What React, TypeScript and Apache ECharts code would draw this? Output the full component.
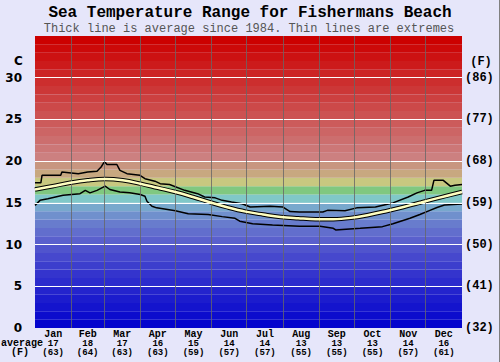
import React, { useEffect, useRef } from 'react';
import * as echarts from 'echarts';

const MONTHS = ['Jan', 'Feb', 'Mar', 'Apr', 'May', 'Jun', 'Jul', 'Aug', 'Sep', 'Oct', 'Nov', 'Dec'];
const MONTH_DAYS = [31, 28, 31, 30, 31, 30, 31, 31, 30, 31, 30, 31];
const AVG_C = ['17', '18', '17', '16', '15', '14', '14', '13', '13', '13', '14', '16'];
const AVG_F = ['(63)', '(64)', '(63)', '(63)', '(59)', '(57)', '(57)', '(55)', '(55)', '(55)', '(57)', '(61)'];
const C_TICKS = [0, 5, 10, 15, 20, 25, 30];
const F_TICKS = ['(32)', '(41)', '(50)', '(59)', '(68)', '(77)', '(86)'];

// [day of year, °C]
const AVERAGE: [number, number][] = [
  [0, 16.6], [15, 17.0], [30, 17.4], [45, 17.7], [60, 17.85], [75, 17.7], [90, 17.3],
  [105, 16.8], [120, 16.3], [135, 15.7], [150, 15.05], [165, 14.45], [180, 13.95],
  [195, 13.6], [210, 13.3], [225, 13.15], [240, 13.05], [255, 13.05], [270, 13.2],
  [285, 13.55], [300, 14.0], [315, 14.5], [330, 15.05], [345, 15.6], [365, 16.3],
];

const UPPER: [number, number][] = [
  [0, 17.4], [5, 17.4], [6, 18.3], [22, 18.3], [23, 18.7], [37, 18.5], [45, 18.7],
  [53, 18.8], [56.5, 19.3], [59.4, 19.95], [61.5, 19.6], [70, 19.6], [72.6, 18.9],
  [78.6, 18.5], [89.7, 18.3], [94, 17.9], [102.5, 17.6], [107, 17.3], [115, 17.2],
  [128, 16.5], [139, 16.1], [145, 15.7], [154, 15.6], [160, 15.3], [168, 15.1],
  [177, 14.9], [184, 14.5], [201, 14.6], [212, 14.5], [218, 13.95], [226, 13.9],
  [246, 13.9], [250, 14.1], [265, 14.05], [275, 14.4], [291, 14.5], [303, 14.9],
  [306, 15.0], [319, 15.7], [326.5, 16.2], [333, 16.5], [339, 16.5], [341, 17.7],
  [349, 17.7], [355, 17.0], [359, 17.1], [365, 17.2],
];

const LOWER: [number, number][] = [
  [0, 14.7], [4.3, 15.3], [11, 15.5], [24, 15.9], [38.5, 16.1], [43, 16.5], [47, 16.2],
  [53, 16.5], [60, 17.0], [64, 16.6], [72.6, 16.3], [81, 16.2], [90, 16.0], [94, 15.8],
  [95.7, 15.2], [100, 14.6], [104, 14.4], [120, 14.05], [131, 13.7], [148, 13.6],
  [160, 13.35], [171, 13.15], [175, 12.8], [186, 12.5], [203, 12.35], [226, 12.2],
  [243.6, 12.2], [255, 11.95], [257, 11.75], [278, 11.95], [297, 12.15], [306, 12.5],
  [320.5, 13.15], [329, 13.6], [337.6, 14.1], [343.6, 14.45], [350, 14.75], [365, 14.85],
];

// background band colours (style), one per 1°C from 0 to 35
const BAND_COLORS = [
  'rgb(5,5,205)', 'rgb(12,12,205)', 'rgb(20,20,205)', 'rgb(28,28,205)', 'rgb(36,36,205)',
  'rgb(44,44,205)', 'rgb(52,52,205)', 'rgb(60,62,205)', 'rgb(70,72,205)', 'rgb(80,84,205)',
  'rgb(90,96,205)', 'rgb(98,110,205)', 'rgb(104,124,205)', 'rgb(112,144,205)', 'rgb(120,168,205)',
  'rgb(128,200,200)', 'rgb(128,200,128)', 'rgb(200,200,128)', 'rgb(200,168,128)', 'rgb(200,150,128)',
  'rgb(204,128,128)', 'rgb(204,119,119)', 'rgb(204,110,110)', 'rgb(204,101,101)', 'rgb(204,91,91)',
  'rgb(204,82,82)', 'rgb(204,73,73)', 'rgb(204,64,64)', 'rgb(204,55,55)', 'rgb(204,46,46)',
  'rgb(204,37,37)', 'rgb(204,27,27)', 'rgb(204,18,18)', 'rgb(204,9,9)', 'rgb(204,0,0)',
];

const MONO = '"Liberation Mono", "Courier New", monospace';
const SANS = '"DejaVu Sans", Verdana, sans-serif';

export default function App() {
  const ref = useRef<HTMLDivElement>(null);

  useEffect(() => {
    if (!ref.current) return;
    const chart = echarts.init(ref.current, undefined, { renderer: 'svg' });

    const starts: number[] = [];
    let acc = 0;
    MONTH_DAYS.forEach((d) => { starts.push(acc); acc += d; });
    const centers = MONTH_DAYS.map((d, i) => starts[i] + d / 2);
    const boundaries = starts.slice(1);

    const bandData = BAND_COLORS.map((c, i) => [
      { yAxis: i, itemStyle: { color: c } },
      { yAxis: i + 1 },
    ]);

    const option: any = {
      animation: false,
      backgroundColor: '#E6E6FA',
      grid: { left: 35, right: 38, top: 36, bottom: 34 },
      xAxis: {
        type: 'value',
        min: 0,
        max: 365,
        splitLine: { show: false },
        axisLine: { show: false },
        axisTick: { show: false },
        axisLabel: {
          customValues: centers,
          margin: 1,
          showMinLabel: true,
          showMaxLabel: true,
          formatter: (v: number) => {
            let idx = -1;
            centers.forEach((c, i) => { if (Math.abs(c - v) < 0.6) idx = i; });
            if (idx < 0) return '';
            return `{m|${MONTHS[idx]}}\n{v|${AVG_C[idx]}}\n{v|${AVG_F[idx]}}`;
          },
          rich: {
            m: { fontFamily: MONO, fontWeight: 'bold', fontSize: 10, lineHeight: 10, color: '#000' },
            v: { fontFamily: MONO, fontWeight: 'bold', fontSize: 9, lineHeight: 9.5, color: '#000' },
          },
        },
      },
      yAxis: [
        {
          type: 'value',
          min: 0,
          max: 35,
          interval: 5,
          splitLine: { show: false },
          axisLine: { show: false },
          axisTick: { show: false },
          axisLabel: {
            margin: 13,
            fontFamily: SANS,
            fontWeight: 'bold',
            fontSize: 12,
            color: '#000',
            formatter: (v: number) => (C_TICKS.includes(v) ? String(v) : ''),
          },
        },
        {
          type: 'value',
          min: 0,
          max: 35,
          interval: 5,
          position: 'right',
          splitLine: { show: false },
          axisLine: { show: false },
          axisTick: { show: false },
          axisLabel: {
            margin: 3,
            fontFamily: MONO,
            fontWeight: 'bold',
            fontSize: 12,
            color: '#000',
            formatter: (v: number) => {
              const i = Math.round(v / 5);
              return F_TICKS[i] !== undefined ? F_TICKS[i] : '';
            },
          },
        },
      ],
      graphic: [
        {
          type: 'text', x: 250, y: 13, silent: true,
          style: {
            text: 'Sea Temperature Range for Fishermans Beach', textAlign: 'center', textVerticalAlign: 'middle',
            font: `bold 16px ${MONO}`, fill: '#000',
          },
        },
        {
          type: 'text', x: 249, y: 29, silent: true,
          style: {
            text: 'Thick line is average since 1984. Thin lines are extremes', textAlign: 'center', textVerticalAlign: 'middle',
            font: `12px ${MONO}`, fill: '#555',
          },
        },
        {
          type: 'text', x: 18.5, y: 61, silent: true,
          style: { text: 'C', textAlign: 'center', textVerticalAlign: 'middle', font: `bold 12px ${SANS}`, fill: '#000' },
        },
        {
          type: 'text', x: 481, y: 62, silent: true,
          style: { text: '(F)', textAlign: 'center', textVerticalAlign: 'middle', font: `bold 12px ${MONO}`, fill: '#000' },
        },
        {
          type: 'text', x: 22, y: 343, silent: true,
          style: { text: 'average', textAlign: 'center', textVerticalAlign: 'middle', font: `bold 10px ${MONO}`, fill: '#000' },
        },
        {
          type: 'text', x: 20, y: 352.5, silent: true,
          style: { text: '(F)', textAlign: 'center', textVerticalAlign: 'middle', font: `bold 10px ${MONO}`, fill: '#000' },
        },
        {
          type: 'line', silent: true,
          shape: { x1: 499.5, y1: 0, x2: 499.5, y2: 362 },
          style: { stroke: '#808080', lineWidth: 1 },
        },
      ],
      series: [
        {
          type: 'line',
          data: [],
          z: 1,
          silent: true,
          markArea: { silent: true, data: bandData },
        },
        {
          type: 'line',
          data: [],
          z: 2,
          silent: true,
          markLine: {
            silent: true,
            symbol: ['none', 'none'],
            label: { show: false },
            data: [
              ...C_TICKS.filter((t) => t > 0).map((t) => ({
                yAxis: t,
                lineStyle: { color: '#ffffff', width: 1, type: 'solid', opacity: 1 },
              })),
              ...boundaries.map((b) => ({
                xAxis: b,
                lineStyle: { color: '#666666', width: 1, type: 'solid', opacity: 0.8 },
              })),
            ],
          },
        },
        {
          name: 'Lower',
          type: 'line',
          data: LOWER,
          z: 3,
          symbol: 'none',
          lineStyle: { color: '#000', width: 1.5 },
        },
        {
          name: 'Upper',
          type: 'line',
          data: UPPER,
          z: 3,
          symbol: 'none',
          lineStyle: { color: '#000', width: 1.5 },
        },
        {
          name: 'AverageOutline',
          type: 'line',
          data: AVERAGE,
          z: 4,
          smooth: 0.4,
          symbol: 'none',
          lineStyle: { color: '#000', width: 4.5 },
        },
        {
          name: 'Average',
          type: 'line',
          data: AVERAGE,
          z: 5,
          smooth: 0.4,
          symbol: 'none',
          lineStyle: { color: '#FFFFC0', width: 2.5 },
        },
      ],
    };

    chart.setOption(option);
    return () => chart.dispose();
  }, []);

  return (
    <div style={{ position: 'fixed', left: 0, top: 0, width: 500, height: 362 }}>
      <div ref={ref} style={{ width: 500, height: 362 }} />
    </div>
  );
}
